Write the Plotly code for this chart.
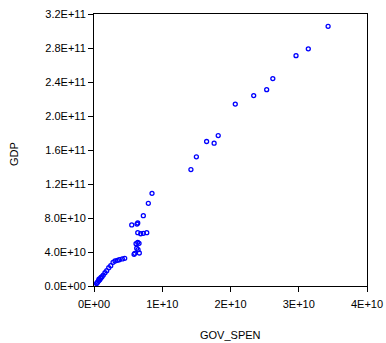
import plotly.graph_objects as go

gov_spen = [3.7e8, 4.4e8, 5.4e8, 6.9e8, 7.3e8, 8.4e8, 9.8e8, 1.03e9, 1.17e9, 1.36e9,
            1.61e9, 1.86e9, 2.16e9, 2.45e9, 2.79e9, 3.08e9, 3.42e9, 3.71e9, 4.15e9, 4.50e9,
            5.87e9, 5.97e9, 6.64e9, 6.26e9, 6.45e9, 6.16e9, 6.41e9, 6.60e9, 6.41e9, 6.85e9,
            7.23e9, 7.73e9, 5.53e9, 6.30e9, 6.41e9, 7.23e9, 7.96e9, 8.50e9,
            1.42e10, 1.50e10, 1.65e10, 1.76e10, 1.82e10, 2.07e10, 2.34e10, 2.53e10,
            2.62e10, 2.96e10, 3.14e10, 3.43e10]
gdp = [2.9e9, 3.5e9, 4.7e9, 6.2e9, 8.2e9, 7.4e9, 9.1e9, 1.0e10, 1.09e10, 1.29e10,
       1.56e10, 1.80e10, 2.15e10, 2.39e10, 2.79e10, 2.94e10, 3.02e10, 3.09e10, 3.18e10, 3.26e10,
       3.73e10, 3.85e10, 3.88e10, 4.44e10, 4.27e10, 4.98e10, 5.14e10, 5.02e10, 6.27e10, 6.15e10,
       6.20e10, 6.27e10, 7.18e10, 7.29e10, 7.41e10, 8.27e10, 9.73e10, 1.09e11,
       1.37e11, 1.52e11, 1.70e11, 1.68e11, 1.77e11, 2.14e11, 2.24e11, 2.31e11,
       2.44e11, 2.71e11, 2.79e11, 3.055e11]

x_tickvals = [0, 1e10, 2e10, 3e10, 4e10]
x_ticktext = ["0E+00", "1E+10", "2E+10", "3E+10", "4E+10"]
y_tickvals = [0, 4e10, 8e10, 1.2e11, 1.6e11, 2.0e11, 2.4e11, 2.8e11, 3.2e11]
y_ticktext = ["0.0E+00", "4.0E+10", "8.0E+10", "1.2E+11", "1.6E+11",
              "2.0E+11", "2.4E+11", "2.8E+11", "3.2E+11"]
x_title = "GOV_SPEN"
y_title = "GDP"

FONT = "Liberation Sans, Arial, sans-serif"

fig = go.Figure(go.Scatter(
    x=gov_spen, y=gdp, mode="markers",
    marker=dict(symbol="circle-open", size=4, color="#0000ff", line=dict(width=1.3, color="#0000ff")),
))

axis_common = dict(
    showgrid=False, zeroline=False, showline=True, linecolor="black", linewidth=1,
    mirror=True, ticks="outside", ticklen=5, tickcolor="black", tickwidth=1,
    automargin=False,
    tickfont=dict(family=FONT, size=11, color="black"),
)

fig.update_layout(
    width=386, height=343,
    margin=dict(l=94, r=19, t=14, b=57),
    paper_bgcolor="white", plot_bgcolor="white",
    showlegend=False,
    font=dict(family=FONT, size=11, color="black"),
    xaxis=dict(range=[0, 4e10], tickvals=x_tickvals, ticktext=x_ticktext,
               ticklabelstandoff=3, **axis_common),
    yaxis=dict(range=[0, 3.2e11], tickvals=y_tickvals, ticktext=y_ticktext, **axis_common),
    annotations=[
        dict(text=x_title, xref="paper", yref="paper", x=0.5, y=0, yshift=-49,
             xanchor="center", yanchor="middle", showarrow=False,
             font=dict(family=FONT, size=11, color="black")),
        dict(text=y_title, xref="paper", yref="paper", x=0, y=0.5, xshift=-80, yshift=-4,
             xanchor="center", yanchor="middle", textangle=-90, showarrow=False,
             font=dict(family=FONT, size=11, color="black")),
    ],
)

fig.write_html("out.html")
